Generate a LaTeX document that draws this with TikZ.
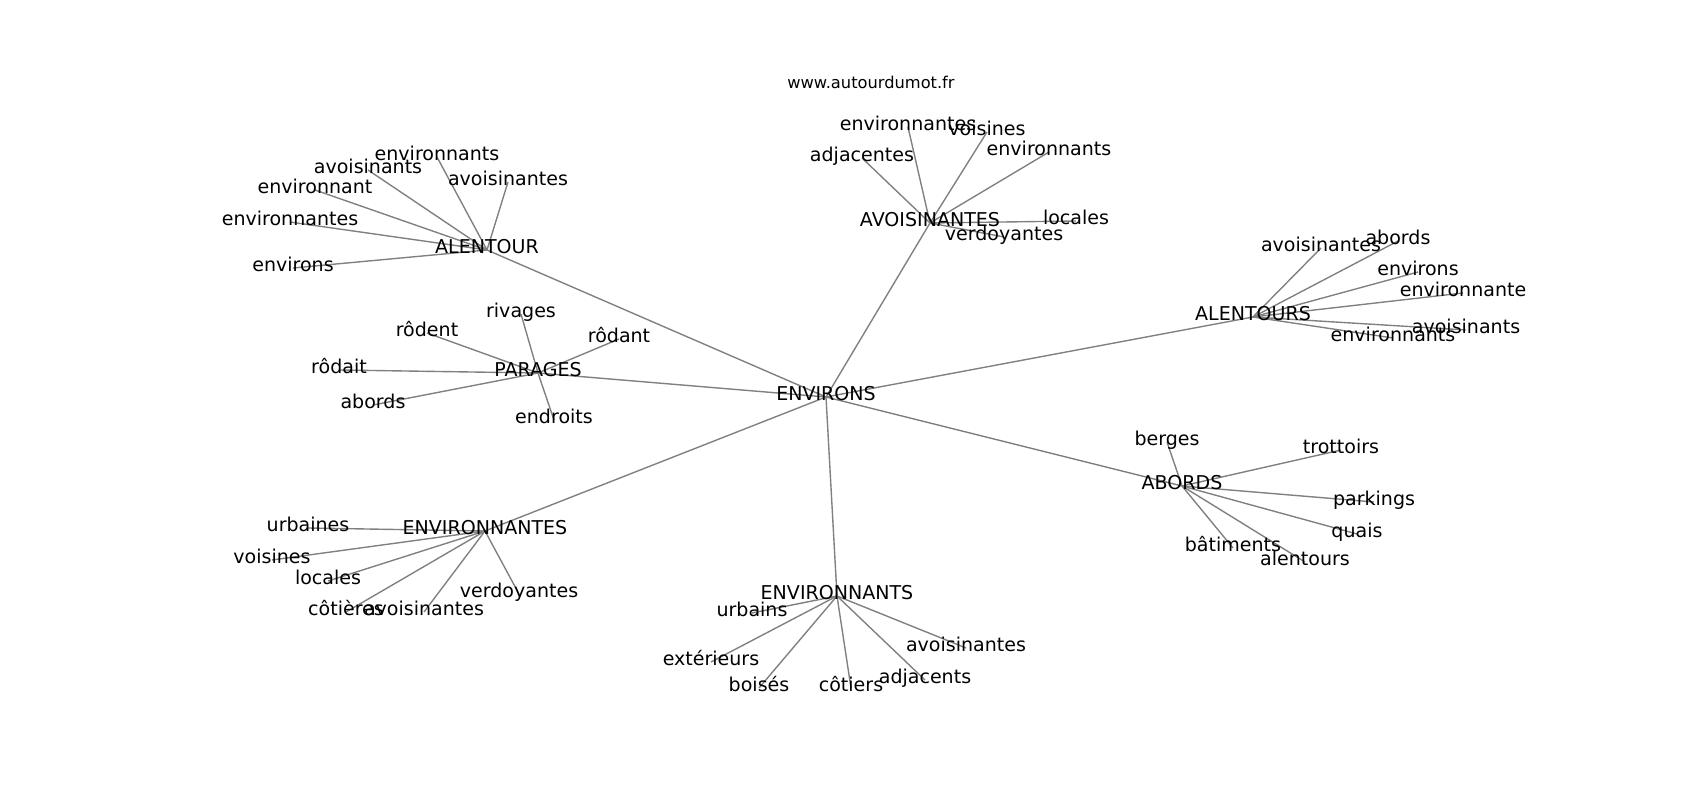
\documentclass[tikz,border=0pt]{standalone}
\usepackage{fontspec}
\setmainfont{DejaVu Sans}
\usetikzlibrary{backgrounds}
\definecolor{edgegray}{HTML}{808080}

\begin{document}
\begin{tikzpicture}[x=0.01in,y=-0.01in,
		word/.style={inner sep=0pt,text height=0.73em,text depth=0.24em,font=\fontsize{13.7bp}{16bp}\selectfont},
		link/.style={edgegray,line width=1bp}]
			\useasboundingbox (0,-5) rectangle (1700,795);
			\node[inner sep=0pt,font=\fontsize{11.7bp}{14bp}\selectfont] (site) at (871,77) {www.autourdumot.fr};
			% hubs
			\node[word] (environs) at (826,392) {ENVIRONS};
			\node[word] (alentour) at (487,245) {ALENTOUR};
			\node[word] (avoisinantes) at (930,218) {AVOISINANTES};
			\node[word] (alentours) at (1253,312) {ALENTOURS};
			\node[word] (parages) at (538,368) {PARAGES};
			\node[word] (abords) at (1182,481) {ABORDS};
			\node[word] (environnantes) at (485,526) {ENVIRONNANTES};
			\node[word] (environnants) at (837,591) {ENVIRONNANTS};
			% alentour
			\node[word] (alt1) at (437,152) {environnants};
			\node[word] (alt2) at (368,165) {avoisinants};
			\node[word] (alt3) at (508,177) {avoisinantes};
			\node[word] (alt4) at (315,185) {environnant};
			\node[word] (alt5) at (290,217) {environnantes};
			\node[word] (alt6) at (293,263) {environs};
			% avoisinantes
			\node[word] (avs1) at (908,122) {environnantes};
			\node[word] (avs2) at (987,127) {voisines};
			\node[word] (avs3) at (1049,147) {environnants};
			\node[word] (avs4) at (862,153) {adjacentes};
			\node[word] (avs5) at (1076,216) {locales};
			\node[word] (avs6) at (1004,232) {verdoyantes};
			% alentours
			\node[word] (als1) at (1321,243) {avoisinantes};
			\node[word] (als2) at (1398,236) {abords};
			\node[word] (als3) at (1418,267) {environs};
			\node[word] (als4) at (1463,288) {environnante};
			\node[word] (als5) at (1466,325) {avoisinants};
			\node[word] (als6) at (1393,333) {environnants};
			% parages
			\node[word] (par1) at (521,309) {rivages};
			\node[word] (par2) at (427,328) {rôdent};
			\node[word] (par3) at (339,365) {rôdait};
			\node[word] (par4) at (619,334) {rôdant};
			\node[word] (par5) at (373,400) {abords};
			\node[word] (par6) at (554,415) {endroits};
			% abords
			\node[word] (abo1) at (1167,437) {berges};
			\node[word] (abo2) at (1341,445) {trottoirs};
			\node[word] (abo3) at (1374,497) {parkings};
			\node[word] (abo4) at (1357,529) {quais};
			\node[word] (abo5) at (1233,543) {bâtiments};
			\node[word] (abo6) at (1305,557) {alentours};
			% environnantes
			\node[word] (ens1) at (308,523) {urbaines};
			\node[word] (ens2) at (272,555) {voisines};
			\node[word] (ens3) at (328,576) {locales};
			\node[word] (ens4) at (346,607) {côtières};
			\node[word] (ens5) at (424,607) {avoisinantes};
			\node[word] (ens6) at (519,589) {verdoyantes};
			% environnants
			\node[word] (ent1) at (752,608) {urbains};
			\node[word] (ent2) at (711,657) {extérieurs};
			\node[word] (ent3) at (759,683) {boisés};
			\node[word] (ent4) at (851,683) {côtiers};
			\node[word] (ent5) at (925,675) {adjacents};
			\node[word] (ent6) at (966,643) {avoisinantes};
			\begin{pgfonlayer}{background}
				\foreach \hub in {alentour,avoisinantes,alentours,parages,abords,environnantes,environnants}
					\draw[link] (environs.center) -- (\hub.center);
				\foreach \i in {1,...,6} {
					\draw[link] (alentour.center) -- (alt\i.center);
					\draw[link] (avoisinantes.center) -- (avs\i.center);
					\draw[link] (alentours.center) -- (als\i.center);
					\draw[link] (parages.center) -- (par\i.center);
					\draw[link] (abords.center) -- (abo\i.center);
					\draw[link] (environnantes.center) -- (ens\i.center);
					\draw[link] (environnants.center) -- (ent\i.center);
				}
			\end{pgfonlayer}
		\end{tikzpicture}
\end{document}
